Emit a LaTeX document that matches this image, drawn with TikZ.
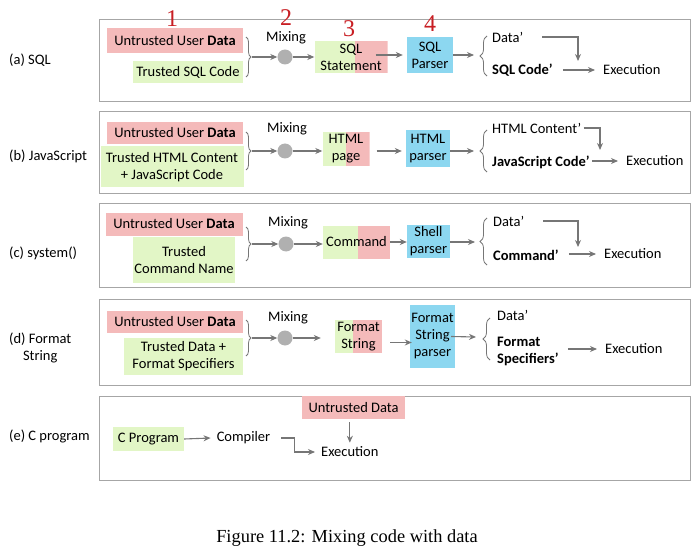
\documentclass[tikz,border=0pt]{standalone}
\usepackage{fontspec}
\setmainfont{Liberation Serif}
\setsansfont{Carlito}
\usetikzlibrary{arrows.meta,decorations.pathreplacing,calc}

\definecolor{pinkbox}{RGB}{244,186,186}
\definecolor{greenbox}{RGB}{226,246,198}
\definecolor{bluebox}{RGB}{140,215,240}
\definecolor{arrgray}{RGB}{118,118,118}
\definecolor{numred}{RGB}{200,30,35}

\tikzset{
  panel/.style={draw=gray!70, line width=0.9pt},
  untrusted/.style={fill=pinkbox, inner sep=0pt, align=center},
  trusted/.style={fill=greenbox, inner sep=0pt, align=center},
  parser/.style={fill=bluebox, inner sep=0pt, align=center},
  mixedbox/.style={inner sep=0pt, align=center, path picture={
      \fill[pinkbox] (path picture bounding box.south west) rectangle (path picture bounding box.north east);
      \fill[greenbox] (path picture bounding box.south west) rectangle
        ($(path picture bounding box.north west)!#1!(path picture bounding box.north east)$);}},
  mixer/.style={circle, fill=gray!62, minimum size=15pt, inner sep=0pt},
  arr/.style={draw=arrgray, line width=1.1pt, -{Stealth[length=7pt,width=6pt]}},
  rbrace/.style={draw=arrgray, line width=0.8pt, decorate, decoration={brace, amplitude=5pt}},
  lbrace/.style={draw=arrgray, line width=0.8pt, decorate, decoration={brace, amplitude=7pt}},
  stepnum/.style={text=numred, inner sep=0pt, font=\rmfamily\fontsize{24}{24}\selectfont},
  txt/.style={inner sep=0pt, align=left}
}

\begin{document}
\begin{tikzpicture}[x=1pt, y=-1pt, font=\sffamily\fontsize{14.5}{17}\selectfont]
\useasboundingbox (0,0) rectangle (700,553);

% (a) SQL
\draw[panel] (99,19) rectangle (690,101);
\node[txt, anchor=west] (a-lbl) at (9,60) {(a) SQL};
\node[untrusted, minimum width=136, minimum height=25] (a-data) at (175,41) {Untrusted User \textbf{Data}};
\node[trusted, minimum width=110, minimum height=22] (a-code) at (188,72) {Trusted SQL Code};
\draw[rbrace] (246,37) -- (246,77);
\coordinate (a-join) at (252,57);
\node[mixer] (a-mix) at (285,57) {};
\node (a-mixlbl) at (286,38) {Mixing};
\node[mixedbox=0.55, minimum width=73, minimum height=32] (a-stmt) at (351,57) {SQL\\Statement};
\node[parser, minimum width=46, minimum height=36] (a-pars) at (430,55) {SQL\\Parser};
\node[stepnum] (a-n1) at (172,19) {1};
\node[stepnum] (a-n2) at (286,18) {2};
\node[stepnum] (a-n3) at (349,29) {3};
\node[stepnum] (a-n4) at (430,24) {4};
\draw[arr] (a-join) -- (a-mix);
\draw[arr] (a-mix) -- (a-stmt);
\draw[arr, shorten >=4pt] ($(a-stmt.east |- a-pars)+(-12,0)$) -- (a-pars.west);
\coordinate (a-split) at (474,55);
\draw[arr] (a-pars.east) -- (a-split);
\draw[lbrace] (487,76) -- (487,36);
\node[txt, anchor=west] (a-dat) at (492,37) {Data’};
\node[txt, anchor=west] (a-cod) at (492,70) {\textbf{SQL Code’}};
\node[txt, anchor=west] (a-exe) at (603,70) {Execution};
\coordinate (a-drop) at (578,61);
\draw[arr] ([xshift=19pt]a-dat.east) -| (a-drop);
\draw[arr] ($(a-cod.east |- a-exe)+(10,0)$) -- ($(a-exe.west)+(-8,0)$);

% (b) JavaScript
\draw[panel] (99,111) rectangle (690,193);
\node[txt, anchor=west] (b-lbl) at (9,156) {(b) JavaScript};
\node[untrusted, minimum width=136, minimum height=22] (b-data) at (175,133) {Untrusted User \textbf{Data}};
\node[trusted, minimum width=143, minimum height=41] (b-code) at (172,167) {Trusted HTML Content\\+ JavaScript Code};
\draw[rbrace] (246,132) -- (246,170);
\coordinate (b-join) at (252,151);
\node[mixer] (b-mix) at (285,151) {};
\node (b-mixlbl) at (287,129) {Mixing};
\node[mixedbox=0.5, minimum width=47, minimum height=34] (b-page) at (346,149) {HTML\\page};
\node[parser, minimum width=44, minimum height=37] (b-pars) at (428,148.5) {HTML\\parser};
\draw[arr] (b-join) -- (b-mix);
\draw[arr] (b-mix) -- (b-mix -| b-page.west);
\draw[arr, shorten >=4pt] ($(b-page.east |- b-mix)+(7,0)$) -- (b-mix -| b-pars.west);
\coordinate (b-split) at (474,151);
\draw[arr] (b-pars.east |- b-split) -- (b-split);
\draw[lbrace] (487,172) -- (487,130);
\node[txt, anchor=west] (b-dat) at (492,128) {HTML Content’};
\node[txt, anchor=west] (b-cod) at (492,162) {\textbf{JavaScript Code’}};
\node[txt, anchor=west] (b-exe) at (626,161) {Execution};
\coordinate (b-drop) at (600,150);
\draw[arr] ([xshift=2pt]b-dat.east) -| (b-drop);
\draw[arr] ($(b-cod.east |- b-exe)+(2,0)$) -- ($(b-exe.west)+(-8,0)$);

% (c) system()
\draw[panel] (99,203) rectangle (690,287);
\node[txt, anchor=west] (c-lbl) at (9,253) {(c) system()};
\node[untrusted, minimum width=137, minimum height=23] (c-data) at (174,224) {Untrusted User \textbf{Data}};
\node[trusted, minimum width=102, minimum height=46] (c-code) at (184,260) {Trusted\\Command Name};
\draw[rbrace] (246,227) -- (246,261);
\coordinate (c-join) at (252,244);
\node[mixer] (c-mix) at (286,244) {};
\node (c-mixlbl) at (288,223) {Mixing};
\node[mixedbox=0.52, minimum width=67, minimum height=33] (c-cmd) at (356.5,242) {Command};
\node[parser, minimum width=43, minimum height=33] (c-pars) at (428.5,241.5) {Shell\\parser};
\draw[arr] (c-join) -- (c-mix);
\draw[arr] (c-mix) -- (c-mix -| c-cmd.west);
\draw[arr] (c-cmd.east) -- (c-cmd.east -| c-pars.west);
\coordinate (c-split) at (475,242);
\draw[arr] (c-pars.east |- c-split) -- (c-split);
\draw[lbrace] (487,265) -- (487,218);
\node[txt, anchor=west] (c-dat) at (493,221) {Data’};
\node[txt, anchor=west] (c-cod) at (493,255) {\textbf{Command’}};
\node[txt, anchor=west] (c-exe) at (604,254) {Execution};
\coordinate (c-drop) at (578,247);
\draw[arr] ([xshift=19pt]c-dat.east) -| (c-drop);
\draw[arr] ($(c-cod.east |- c-exe)+(10,0)$) -- ($(c-exe.west)+(-8,0)$);

% (d) Format String
\draw[panel] (99,299) rectangle (690,385);
\node[txt, anchor=west, align=center] (d-lbl) at (9,348) {(d) Format\\String};
\node[untrusted, minimum width=136, minimum height=22] (d-data) at (175,322) {Untrusted User \textbf{Data}};
\node[trusted, minimum width=119, minimum height=37] (d-code) at (183.5,356.5) {Trusted Data +\\Format Specifiers};
\draw[rbrace] (246,320) -- (246,356);
\coordinate (d-join) at (252,338);
\node[mixer] (d-mix) at (285,338) {};
\node (d-mixlbl) at (288,318) {Mixing};
\node[mixedbox=0.38, minimum width=47, minimum height=33] (d-fmt) at (358.5,336.5) {Format\\String};
\node[parser, minimum width=45, minimum height=63] (d-pars) at (432.5,336.5) {Format\\String\\parser};
\draw[arr] (d-join) -- (d-mix);
\draw[arr, shorten >=14pt] (d-mix) -- (d-mix -| d-fmt.west);
\draw[arr] ($(d-fmt.east)+(8,6)$) -- ($(d-pars.west)+(2,6)$);
\coordinate (d-split) at (476,337);
\draw[arr] ($(d-pars.east)+(-4,0)$) -- (d-split);
\draw[lbrace] (490,360) -- (490,318);
\node[txt, anchor=west] (d-dat) at (497,315) {Data’};
\node[txt, anchor=west] (d-cod) at (497,351) {\textbf{Format}\\\textbf{Specifiers’}};
\node[txt, anchor=west] (d-exe) at (605,349) {Execution};
\draw[arr] ($(d-cod.east |- d-exe)+(9,0)$) -- ($(d-exe.west)+(-8,0)$);

% (e) C program
\draw[panel] (99,396) rectangle (690,480);
\node[txt, anchor=west] (e-lbl) at (9,436) {(e) C program};
\node[untrusted, minimum width=103, minimum height=23] (e-udata) at (353.5,407.5) {Untrusted Data};
\node[trusted, minimum width=71, minimum height=24] (e-prog) at (148.5,439) {C Program};
\node[txt] (e-comp) at (243.5,438) {Compiler};
\node[txt, anchor=west] (e-exe) at (321,452) {Execution};
\draw[arr] (e-prog.east) -- ([xshift=-6pt]e-comp.west);
\draw[arr] ([xshift=11pt]e-comp.east) -- ++(13,0) |- ([xshift=-6pt]e-exe.west);
\draw[arr, shorten <=3pt, shorten >=4pt] (e-udata.south -| e-exe) -- (e-exe.north);

% caption
\node[font=\rmfamily\fontsize{18.4}{20}\selectfont] (caption) at (347,538) {Figure 11.2: Mixing code with data};

\end{tikzpicture}
\end{document}
